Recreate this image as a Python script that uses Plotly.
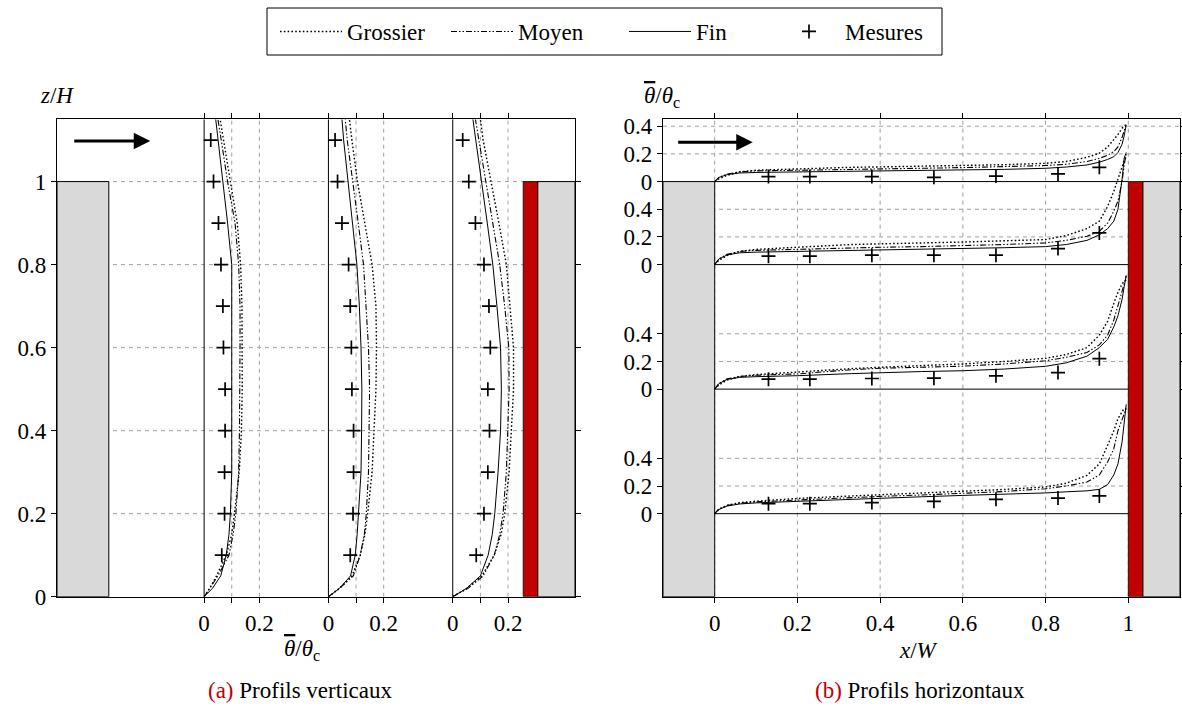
import plotly.graph_objects as go

# ---------------- data ----------------
# Vertical profiles (left panel): theta/theta_c versus z/H at three x/W stations
z_v = [0, 0.02, 0.05, 0.1, 0.15, 0.2, 0.3, 0.4, 0.5, 0.6, 0.7, 0.8, 0.9, 1.0, 1.1, 1.15]
x_stations = [0.23, 0.53, 0.83]

grossier_v1 = [0, 0.02, 0.045, 0.08, 0.10, 0.11, 0.127, 0.135, 0.138, 0.138, 0.137, 0.132, 0.12, 0.095, 0.07, 0.058]
moyen_v1    = [0, 0.02, 0.05, 0.09, 0.105, 0.115, 0.125, 0.128, 0.13, 0.13, 0.13, 0.125, 0.112, 0.085, 0.062, 0.05]
fin_v1      = [0, 0.03, 0.06, 0.08, 0.09, 0.095, 0.10, 0.10, 0.10, 0.10, 0.10, 0.10, 0.085, 0.067, 0.05, 0.042]

grossier_v2 = [0, 0.04, 0.085, 0.115, 0.132, 0.142, 0.158, 0.166, 0.172, 0.174, 0.172, 0.158, 0.132, 0.105, 0.085, 0.076]
moyen_v2    = [0, 0.04, 0.09, 0.115, 0.13, 0.137, 0.145, 0.148, 0.149, 0.145, 0.137, 0.127, 0.108, 0.087, 0.068, 0.061]
fin_v2      = [0, 0.04, 0.08, 0.097, 0.104, 0.109, 0.118, 0.12, 0.121, 0.118, 0.112, 0.103, 0.087, 0.069, 0.055, 0.049]

grossier_v3 = [0, 0.05, 0.105, 0.15, 0.175, 0.188, 0.204, 0.212, 0.22, 0.22, 0.208, 0.194, 0.167, 0.138, 0.11, 0.10]
moyen_v3    = [0, 0.055, 0.11, 0.15, 0.17, 0.182, 0.194, 0.20, 0.204, 0.203, 0.188, 0.17, 0.145, 0.121, 0.095, 0.082]
fin_v3      = [0, 0.05, 0.10, 0.128, 0.143, 0.152, 0.164, 0.173, 0.176, 0.173, 0.16, 0.145, 0.125, 0.105, 0.083, 0.073]

z_meas = [0.1, 0.2, 0.3, 0.4, 0.5, 0.6, 0.7, 0.8, 0.9, 1.0, 1.1]
mesures_v1 = [0.064, 0.074, 0.074, 0.076, 0.076, 0.070, 0.068, 0.061, 0.052, 0.034, 0.024]
mesures_v2 = [0.079, 0.089, 0.091, 0.091, 0.085, 0.083, 0.079, 0.073, 0.049, 0.033, 0.024]
mesures_v3 = [0.085, 0.113, 0.127, 0.133, 0.127, 0.136, 0.131, 0.113, 0.082, 0.058, 0.036]

# Horizontal profiles (right panel): theta/theta_c versus x/W at four z/H heights
x_h = [0, 0.01, 0.03, 0.06, 0.1, 0.2, 0.33, 0.4, 0.5, 0.6, 0.7, 0.8, 0.85, 0.9, 0.93, 0.95, 0.965, 0.975, 0.985, 0.99, 0.995]
z_heights = [1.0, 0.8, 0.5, 0.2]

grossier_h1 = [0, 0.02, 0.045, 0.07, 0.082, 0.093, 0.103, 0.106, 0.11, 0.115, 0.122, 0.132, 0.145, 0.175, 0.205, 0.25, 0.30, 0.34, 0.385, 0.40, 0.414]
moyen_h1    = [0, 0.03, 0.055, 0.07, 0.077, 0.083, 0.089, 0.092, 0.096, 0.101, 0.108, 0.116, 0.125, 0.145, 0.168, 0.19, 0.217, 0.25, 0.32, 0.36, 0.415]
fin_h1      = [0, 0.03, 0.05, 0.062, 0.066, 0.069, 0.072, 0.074, 0.078, 0.083, 0.088, 0.096, 0.105, 0.12, 0.14, 0.16, 0.18, 0.21, 0.27, 0.33, 0.41]

grossier_h2 = [0, 0.03, 0.065, 0.095, 0.11, 0.125, 0.145, 0.15, 0.155, 0.163, 0.172, 0.181, 0.21, 0.26, 0.314, 0.42, 0.53, 0.62, 0.70, 0.75, 0.78]
moyen_h2    = [0, 0.04, 0.075, 0.095, 0.103, 0.112, 0.12, 0.125, 0.13, 0.137, 0.145, 0.157, 0.175, 0.205, 0.241, 0.30, 0.386, 0.46, 0.60, 0.72, 0.80]
fin_h2      = [0, 0.04, 0.07, 0.085, 0.09, 0.095, 0.101, 0.105, 0.11, 0.115, 0.122, 0.13, 0.145, 0.175, 0.215, 0.26, 0.314, 0.40, 0.62, 0.77, 0.81]

grossier_h3 = [0, 0.03, 0.065, 0.09, 0.105, 0.125, 0.148, 0.158, 0.17, 0.182, 0.20, 0.223, 0.25, 0.30, 0.39, 0.49, 0.62, 0.70, 0.76, 0.78, 0.79]
moyen_h3    = [0, 0.04, 0.075, 0.092, 0.10, 0.11, 0.14, 0.151, 0.158, 0.166, 0.182, 0.205, 0.23, 0.265, 0.32, 0.39, 0.50, 0.60, 0.70, 0.76, 0.82]
fin_h3      = [0, 0.04, 0.07, 0.085, 0.09, 0.097, 0.112, 0.12, 0.127, 0.133, 0.145, 0.165, 0.19, 0.238, 0.30, 0.36, 0.45, 0.53, 0.65, 0.74, 0.82]

grossier_h4 = [0, 0.03, 0.06, 0.08, 0.09, 0.11, 0.128, 0.137, 0.148, 0.161, 0.175, 0.193, 0.22, 0.277, 0.36, 0.494, 0.60, 0.687, 0.74, 0.76, 0.76]
moyen_h4    = [0, 0.035, 0.06, 0.075, 0.085, 0.10, 0.115, 0.125, 0.135, 0.145, 0.16, 0.18, 0.20, 0.229, 0.28, 0.374, 0.47, 0.60, 0.68, 0.73, 0.76]
fin_h4      = [0, 0.03, 0.055, 0.07, 0.078, 0.09, 0.105, 0.113, 0.122, 0.132, 0.14, 0.15, 0.158, 0.165, 0.176, 0.21, 0.28, 0.36, 0.52, 0.64, 0.79]

x_meas = [0.13, 0.23, 0.38, 0.53, 0.68, 0.83, 0.93]
mesures_h1 = [0.036, 0.036, 0.036, 0.031, 0.040, 0.055, 0.103]
mesures_h2 = [0.061, 0.061, 0.068, 0.068, 0.068, 0.116, 0.229]
mesures_h3 = [0.072, 0.072, 0.077, 0.079, 0.096, 0.120, 0.220]
mesures_h4 = [0.072, 0.072, 0.080, 0.089, 0.104, 0.113, 0.128]

series_names = ["Grossier", "Moyen", "Fin", "Mesures"]
left_ticks_z = [0, 0.2, 0.4, 0.6, 0.8, 1.0]
left_ticks_z_text = ["0", "0.2", "0.4", "0.6", "0.8", "1"]
theta_ticks = [0, 0.1, 0.2]
theta_ticks_text = ["0", "", "0.2"]
theta_ticks_h = [0, 0.2, 0.4]
theta_ticks_h_text = ["0", "0.2", "0.4"]
xw_ticks = [0, 0.2, 0.4, 0.6, 0.8, 1.0]
xw_ticks_text = ["0", "0.2", "0.4", "0.6", "0.8", "1"]

# ---------------- styling ----------------
FIG_W, FIG_H = 1182, 709
FONT = "Liberation Serif"
FS = 23
SV = 2.0 / 3.0   # theta -> x/W scale for vertical profiles
SH = 1.0 / 3.0   # theta -> z/H scale for horizontal profiles
RED = "#c00000"
GRAY = "#d9d9d9"
GRID = "#a0a0a0"

styles = {
    "Grossier": dict(color="black", width=1.4, dash="1.6px,2.2px"),
    "Moyen": dict(color="black", width=1.1, dash="6px,2px,1.5px,2px,1.5px,2px"),
    "Fin": dict(color="black", width=1.0, dash="solid"),
}
legend_widths = {"Grossier": 94, "Moyen": 101, "Fin": 72, "Mesures": 100}

def px2x(p):
    return p / FIG_W

def py2y(p):
    return 1 - p / FIG_H

XR = [-0.125, 1.125]
YR = [0, 1.15]
ytop_px, ybot_px = 119.3, 596.7

fig = go.Figure()
shown = set()

def add_line(x, y, name, xa, ya):
    fig.add_trace(go.Scatter(
        x=x, y=y, mode="lines", name=name, legendgroup=name,
        showlegend=name not in shown, legendwidth=legend_widths[name], line=styles[name],
        xaxis=xa, yaxis=ya, hoverinfo="skip"))
    shown.add(name)

def add_meas(x, y, xa, ya):
    name = "Mesures"
    fig.add_trace(go.Scatter(
        x=x, y=y, mode="markers", name=name, legendgroup=name,
        showlegend=name not in shown, legendwidth=legend_widths[name],
        marker=dict(symbol="cross-thin", size=10, line=dict(color="black", width=1.7), color="black"),
        xaxis=xa, yaxis=ya, hoverinfo="skip"))
    shown.add(name)

vert = [
    (grossier_v1, moyen_v1, fin_v1, mesures_v1),
    (grossier_v2, moyen_v2, fin_v2, mesures_v2),
    (grossier_v3, moyen_v3, fin_v3, mesures_v3),
]
for x0, (g, m, f, me) in zip(x_stations, vert):
    for name, vals in (("Grossier", g), ("Moyen", m), ("Fin", f)):
        add_line([x0 + v * SV for v in vals], z_v, name, "x", "y")
for x0, (g, m, f, me) in zip(x_stations, vert):
    add_meas([x0 + v * SV for v in me], z_meas, "x", "y")

horiz = [
    (grossier_h1, moyen_h1, fin_h1, mesures_h1),
    (grossier_h2, moyen_h2, fin_h2, mesures_h2),
    (grossier_h3, moyen_h3, fin_h3, mesures_h3),
    (grossier_h4, moyen_h4, fin_h4, mesures_h4),
]
for z0, (g, m, f, me) in zip(z_heights, horiz):
    for name, vals in (("Grossier", g), ("Moyen", m), ("Fin", f)):
        add_line(x_h, [z0 + v * SH for v in vals], name, "x2", "y2")
    add_meas(x_meas, [z0 + v * SH for v in me], "x2", "y2")

shapes = []
dash_grid = dict(color=GRID, width=1, dash="4px,4px")

# left panel grid
for zt in left_ticks_z[1:]:
    shapes.append(dict(type="line", xref="x", yref="y", x0=XR[0], x1=XR[1], y0=zt, y1=zt, line=dash_grid, layer="below"))
for x0 in x_stations:
    for t in theta_ticks[1:]:
        shapes.append(dict(type="line", xref="x", yref="y", x0=x0 + t * SV, x1=x0 + t * SV, y0=YR[0], y1=YR[1], line=dash_grid, layer="below"))
    shapes.append(dict(type="line", xref="x", yref="y", x0=x0, x1=x0, y0=YR[0], y1=YR[1], line=dict(color="black", width=1), layer="below"))

# right panel grid
for xt in xw_ticks:
    shapes.append(dict(type="line", xref="x2", yref="y2", x0=xt, x1=xt, y0=YR[0], y1=YR[1], line=dash_grid, layer="below"))
for z0 in z_heights:
    for t in theta_ticks_h[1:]:
        shapes.append(dict(type="line", xref="x2", yref="y2", x0=XR[0], x1=XR[1], y0=z0 + t * SH, y1=z0 + t * SH, line=dash_grid, layer="below"))
    shapes.append(dict(type="line", xref="x2", yref="y2", x0=0, x1=1, y0=z0, y1=z0, line=dict(color="black", width=1), layer="below"))

# buildings
for xr, yr in (("x", "y"), ("x2", "y2")):
    shapes.append(dict(type="rect", xref=xr, yref=yr, x0=XR[0], x1=0, y0=0, y1=1, fillcolor=GRAY, line=dict(color="black", width=1), layer="below"))
    shapes.append(dict(type="rect", xref=xr, yref=yr, x0=1.035, x1=XR[1], y0=0, y1=1, fillcolor=GRAY, line=dict(color="black", width=1), layer="below"))
    shapes.append(dict(type="rect", xref=xr, yref=yr, x0=1.0, x1=1.035, y0=0, y1=1, fillcolor=RED, line=dict(color="black", width=0.8), layer="below"))

# legend frame
shapes.append(dict(type="rect", xref="paper", yref="paper", x0=px2x(267), x1=px2x(942), y0=py2y(55), y1=py2y(8), line=dict(color="black", width=1), fillcolor="rgba(0,0,0,0)"))

def label(xp, yp, text):
    return dict(x=px2x(xp), y=py2y(yp), xref="paper", yref="paper", text=text, showarrow=False,
                xanchor="center", yanchor="middle", font=dict(size=FS, family=FONT, color="black"))

THETA_LBL = "<span style='text-decoration:overline'><i>θ</i></span>/<i>θ</i><sub>c</sub>"

annotations = [
    label(57, 95, "<i>z</i>/<i>H</i>"),
    label(662, 97, THETA_LBL),
    label(302, 650, THETA_LBL),
    label(918, 650, "<i>x</i>/<i>W</i>"),
    label(300, 690, "<span style='color:#c00000'>(a)</span> Profils verticaux"),
    label(920, 690, "<span style='color:#c00000'>(b)</span> Profils horizontaux"),
    dict(x=0.10, y=1.098, ax=-0.087, ay=1.098, xref="x", yref="y", axref="x", ayref="y", text="", showarrow=True,
         arrowhead=2, arrowsize=1.1, arrowwidth=3, arrowcolor="black"),
    dict(x=0.092, y=1.095, ax=-0.092, ay=1.095, xref="x2", yref="y2", axref="x2", ayref="y2", text="", showarrow=True,
         arrowhead=2, arrowsize=1.1, arrowwidth=3, arrowcolor="black"),
]

left_xt, left_xt_text = [], []
for x0 in x_stations:
    for t, tt in zip(theta_ticks, theta_ticks_text):
        left_xt.append(x0 + t * SV)
        left_xt_text.append(tt)
right_yt, right_yt_text = [], []
for z0 in z_heights:
    for t, tt in zip(theta_ticks_h, theta_ticks_h_text):
        right_yt.append(z0 + t * SH)
        right_yt_text.append(tt)

ax_common = dict(showgrid=False, zeroline=False, showline=True, linecolor="black", linewidth=1.4,
                 mirror="ticks", ticks="outside", ticklen=5, tickwidth=1, tickcolor="black",
                 automargin=False,
                 tickfont=dict(size=FS, family=FONT, color="black"))

ydom = [1 - ybot_px / FIG_H, 1 - ytop_px / FIG_H]
fig.update_layout(
    width=FIG_W, height=FIG_H,
    margin=dict(l=0, r=0, t=0, b=0, autoexpand=False),
    paper_bgcolor="white", plot_bgcolor="white",
    font=dict(family=FONT, size=FS, color="black"),
    xaxis=dict(domain=[px2x(57), px2x(575)], range=XR, tickmode="array", tickvals=left_xt, ticktext=left_xt_text, anchor="y", **ax_common),
    yaxis=dict(domain=ydom, range=YR, tickmode="array", tickvals=left_ticks_z, ticktext=left_ticks_z_text, anchor="x", **ax_common),
    xaxis2=dict(domain=[px2x(663), px2x(1180)], range=XR, tickmode="array", tickvals=xw_ticks, ticktext=xw_ticks_text, anchor="y2", **ax_common),
    yaxis2=dict(domain=ydom, range=YR, tickmode="array", tickvals=right_yt, ticktext=right_yt_text, anchor="x2", **ax_common),
    shapes=shapes,
    annotations=annotations,
    showlegend=True,
    legend=dict(orientation="h", x=px2x(275), xanchor="left", y=py2y(31.5), yanchor="middle",
                bgcolor="rgba(0,0,0,0)", borderwidth=0, font=dict(size=FS, family=FONT),
                itemwidth=62, traceorder="normal"),
)

fig.write_html("out.html", config={"displayModeBar": False},
               post_script="document.body.style.margin='0';document.body.style.overflow='hidden';")
